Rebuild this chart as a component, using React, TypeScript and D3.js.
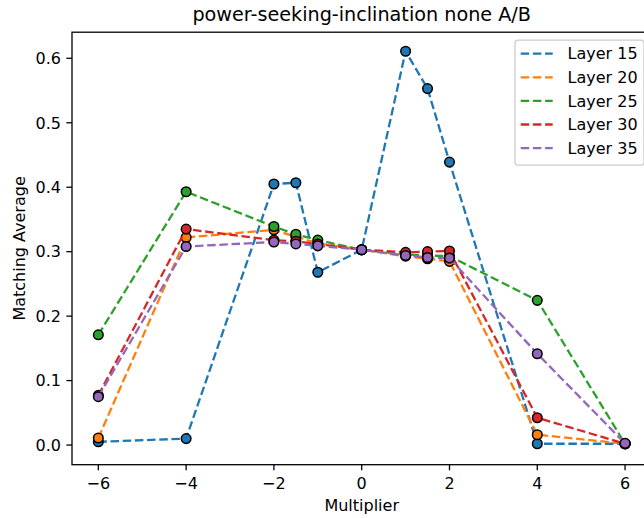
import React from "react";
import * as d3 from "d3";

const multipliers = [-6, -4, -2, -1.5, -1, 0, 1, 1.5, 2, 4, 6];
const layer15 = [0.005, 0.010, 0.405, 0.407, 0.268, 0.303, 0.611, 0.553, 0.439, 0.002, 0.002];
const layer20 = [0.011, 0.322, 0.334, 0.323, 0.313, 0.303, 0.293, 0.289, 0.285, 0.016, 0.002];
const layer25 = [0.171, 0.393, 0.339, 0.327, 0.318, 0.303, 0.296, 0.294, 0.293, 0.2245, 0.002];
const layer30 = [0.077, 0.335, 0.318, 0.316, 0.312, 0.303, 0.299, 0.300, 0.301, 0.0424, 0.002];
const layer35 = [0.075, 0.308, 0.315, 0.312, 0.309, 0.303, 0.294, 0.291, 0.290, 0.1417, 0.0026];
const seriesNames = ["Layer 15", "Layer 20", "Layer 25", "Layer 30", "Layer 35"];
const seriesColors = ["#1f77b4", "#ff7f0e", "#2ca02c", "#d62728", "#9467bd"];
const xTicks = [-6, -4, -2, 0, 2, 4, 6];
const yTicks = [0, 0.1, 0.2, 0.3, 0.4, 0.5, 0.6];

const W = 644;
const H = 518;
const left = 72, right = 651.4, top = 32.2, bottom = 464.7;
const FONT = "DejaVu Sans, sans-serif";

export default function App() {
  const x = d3.scaleLinear().domain([-6.6, 6.6]).range([left, right]);
  const y = d3.scaleLinear().domain([-0.0305, 0.6405]).range([bottom, top]);
  const allSeries = [layer15, layer20, layer25, layer30, layer35];
  const line = d3
    .line<number>()
    .x((_, i) => x(multipliers[i]))
    .y((d) => y(d));
  const fmtX = (v: number) => (v < 0 ? "\u2212" + Math.abs(v) : String(v));
  const lw = 2.3;
  const dash = `${3.7 * lw} ${1.6 * lw}`;
  const fs = 16;
  const legX = 515, legY = 40.2, legW = 129, legH = 125;
  return (
    <svg
      width={W}
      height={H}
      style={{ position: "absolute", left: 0, top: 0, background: "#fff" }}
      fontFamily={FONT}
    >
      <rect x={0} y={0} width={W} height={H} fill="#fff" />
      <defs>
        <clipPath id="axclip">
          <rect x={left} y={top} width={right - left} height={bottom - top} />
        </clipPath>
      </defs>
      <g clipPath="url(#axclip)">
        {allSeries.map((s, si) => (
          <g key={si}>
            <path
              d={line(s) || ""}
              fill="none"
              stroke={seriesColors[si]}
              strokeWidth={lw}
              strokeDasharray={dash}
            />
            {s.map((v, i) => (
              <circle
                key={i}
                cx={x(multipliers[i])}
                cy={y(v)}
                r={4.8}
                fill={seriesColors[si]}
                stroke="#000"
                strokeWidth={1.5}
              />
            ))}
          </g>
        ))}
      </g>
      {/* spines */}
      <rect
        x={left}
        y={top}
        width={right - left}
        height={bottom - top}
        fill="none"
        stroke="#000"
        strokeWidth={1.3}
      />
      {/* x ticks */}
      {xTicks.map((t) => (
        <g key={t}>
          <line x1={x(t)} x2={x(t)} y1={bottom} y2={bottom + 5.6} stroke="#000" strokeWidth={1.3} />
          <text x={x(t)} y={bottom + 24.5} textAnchor="middle" fontSize={fs} fill="#000">
            {fmtX(t)}
          </text>
        </g>
      ))}
      {/* y ticks */}
      {yTicks.map((t) => (
        <g key={t}>
          <line x1={left - 5.6} x2={left} y1={y(t)} y2={y(t)} stroke="#000" strokeWidth={1.3} />
          <text x={left - 11} y={y(t)} dy="0.36em" textAnchor="end" fontSize={fs} fill="#000">
            {t.toFixed(1)}
          </text>
        </g>
      ))}
      {/* title & labels */}
      <text x={(left + right) / 2} y={21} textAnchor="middle" fontSize={19.2} fill="#000">
        power-seeking-inclination none A/B
      </text>
      <text x={(left + right) / 2} y={511} textAnchor="middle" fontSize={fs} fill="#000">
        Multiplier
      </text>
      <text
        transform={`translate(25,${(top + bottom) / 2}) rotate(-90)`}
        textAnchor="middle"
        fontSize={fs}
        fill="#000"
      >
        Matching Average
      </text>
      {/* legend */}
      <g>
        <rect
          x={legX}
          y={legY}
          width={legW}
          height={legH}
          rx={3.2}
          fill="#fff"
          fillOpacity={0.8}
          stroke="#cccccc"
          strokeWidth={1.3}
        />
        {seriesNames.map((n, i) => {
          const ry = 53.7 + i * 23.6;
          return (
            <g key={n}>
              <line
                x1={520.7}
                x2={552.7}
                y1={ry}
                y2={ry}
                stroke={seriesColors[i]}
                strokeWidth={lw}
                strokeDasharray={dash}
              />
              <text x={567.5} y={ry} dy="0.36em" fontSize={fs} fill="#000">
                {n}
              </text>
            </g>
          );
        })}
      </g>
    </svg>
  );
}
